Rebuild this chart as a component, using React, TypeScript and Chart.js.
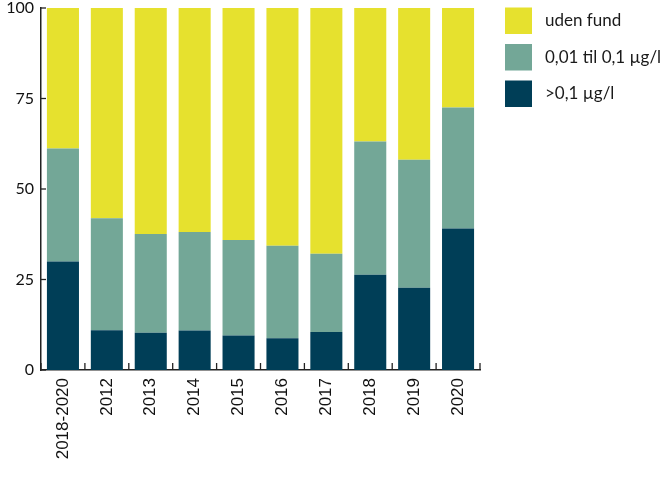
import React, { useEffect, useRef } from "react";
import { Chart, registerables } from "chart.js";

Chart.register(...registerables);

const categories = ["2018-2020", "2012", "2013", "2014", "2015", "2016", "2017", "2018", "2019", "2020"];
const seriesNames = [">0,1 µg/l", "0,01 til 0,1 µg/l", "uden fund"];
const highValues = [30, 11, 10.3, 10.9, 9.5, 8.8, 10.5, 26.3, 22.7, 39.1];
const midValues = [31.2, 30.9, 27.3, 27.2, 26.4, 25.5, 21.6, 36.8, 35.4, 33.4];
const noneValues = [38.8, 58.1, 62.4, 61.9, 64.1, 65.7, 67.9, 36.9, 41.9, 27.5];
const yTicks = [0, 25, 50, 75, 100];
const colors = ["#003E57", "#73A797", "#E6E12E"];

const innerTicks = {
  id: "innerTicks",
  afterDatasetsDraw(chart: any) {
    const { ctx, chartArea, scales } = chart;
    const x = scales.x;
    const y = scales.y;
    ctx.save();
    ctx.strokeStyle = "#222";
    ctx.lineWidth = 1.3;
    const n = categories.length;
    const half = (x.getPixelForValue(1) - x.getPixelForValue(0)) / 2;
    for (let i = 0; i <= n; i++) {
      const px = i < n ? x.getPixelForValue(i) - half : x.getPixelForValue(n - 1) + half;
      ctx.beginPath();
      ctx.moveTo(px, chartArea.bottom);
      ctx.lineTo(px, chartArea.bottom - 7);
      ctx.stroke();
    }
    yTicks.forEach((v) => {
      const py = y.getPixelForValue(v);
      ctx.beginPath();
      ctx.moveTo(chartArea.left, py);
      ctx.lineTo(chartArea.left + 5, py);
      ctx.stroke();
    });
    ctx.restore();
  },
};

const sideLegend = {
  id: "sideLegend",
  afterDraw(chart: any) {
    const { ctx, chartArea } = chart;
    const ds = chart.data.datasets;
    const x0 = chartArea.right + 25;
    ctx.save();
    ctx.font = "17px Lato";
    ctx.textBaseline = "middle";
    ctx.textAlign = "left";
    for (let k = 0; k < ds.length; k++) {
      const d = ds[ds.length - 1 - k];
      const top = 7.5 + k * 36.5;
      ctx.fillStyle = d.backgroundColor;
      ctx.fillRect(x0, top, 27, 26.5);
      ctx.fillStyle = "#1a1a1a";
      ctx.fillText(d.label, x0 + 40, top + 13.5);
    }
    ctx.restore();
  },
};

export default function App() {
  const ref = useRef<HTMLCanvasElement | null>(null);
  useEffect(() => {
    document.body.style.margin = "0";
    if (!ref.current) return;
    const chart = new Chart(ref.current, {
      type: "bar",
      data: {
        labels: categories,
        datasets: [
          { label: seriesNames[0], data: highValues, backgroundColor: colors[0] },
          { label: seriesNames[1], data: midValues, backgroundColor: colors[1] },
          { label: seriesNames[2], data: noneValues, backgroundColor: colors[2] },
        ],
      },
      options: {
        responsive: false,
        animation: false,
        maintainAspectRatio: false,
        layout: { padding: { top: 8, right: 184, bottom: 0, left: 0 } },
        datasets: { bar: { barPercentage: 0.73, categoryPercentage: 1 } },
        plugins: { legend: { display: false }, tooltip: { enabled: false } },
        scales: {
          x: {
            stacked: true,
            grid: { display: false, drawTicks: false },
            border: { display: true, color: "#222", width: 1.5 },
            ticks: {
              minRotation: 90,
              maxRotation: 90,
              padding: 8,
              color: "#111",
              font: { family: "'Liberation Sans', Arial, sans-serif", size: 17 },
            },
            afterFit: (s: any) => {
              s.height = 115;
              s.paddingLeft = 0;
              s.paddingRight = 0;
            },
          },
          y: {
            stacked: true,
            min: 0,
            max: 100,
            afterBuildTicks: (s: any) => {
              s.ticks = yTicks.map((v) => ({ value: v }));
            },
            grid: { display: false, drawTicks: false },
            border: { display: true, color: "#222", width: 1.5 },
            ticks: {
              padding: 7,
              color: "#111",
              font: { family: "Lato, sans-serif", size: 16, lineHeight: 1 },
            },
            afterFit: (s: any) => {
              s.width = 41;
              s.paddingTop = 0;
              s.paddingBottom = 0;
            },
          },
        },
      },
      plugins: [innerTicks, sideLegend],
    });
    return () => chart.destroy();
  }, []);
  return (
    <div style={{ width: 664, height: 485 }}>
      <canvas ref={ref} width={664} height={485} style={{ width: 664, height: 485, display: "block" }} />
    </div>
  );
}
